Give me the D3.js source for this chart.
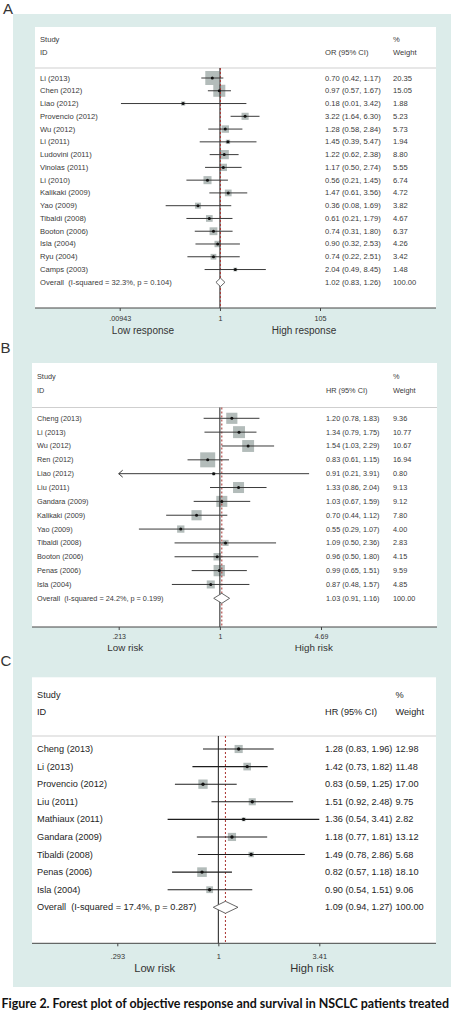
<!DOCTYPE html>
<html>
<head>
<meta charset="utf-8">
<script src="https://cdn.jsdelivr.net/npm/d3@7"></script>
<style>
  html, body { margin: 0; padding: 0; background: #ffffff; }
  svg { display: block; }
</style>
</head>
<body>
<div id="chart"></div>
<script>
// ---------------- DATA ----------------
const panelLetters = ["A", "B", "C"];

// Panel A - objective response (OR)
const studiesA = ["Li (2013)", "Chen (2012)", "Liao (2012)", "Provencio (2012)", "Wu (2012)", "Li (2011)", "Ludovini (2011)", "Vinolas (2011)", "Li (2010)", "Kalikaki (2009)", "Yao (2009)", "Tibaldi (2008)", "Booton (2006)", "Isla (2004)", "Ryu (2004)", "Camps (2003)"];
const estA    = [0.70, 0.97, 0.18, 3.22, 1.28, 1.45, 1.22, 1.17, 0.56, 1.47, 0.36, 0.61, 0.74, 0.90, 0.74, 2.04];
const lowA    = [0.42, 0.57, 0.01, 1.64, 0.58, 0.39, 0.62, 0.50, 0.21, 0.61, 0.08, 0.21, 0.31, 0.32, 0.22, 0.49];
const highA   = [1.17, 1.67, 3.42, 6.30, 2.84, 5.47, 2.38, 2.74, 1.45, 3.56, 1.69, 1.79, 1.80, 2.53, 2.51, 8.45];
const weightA = [20.35, 15.05, 1.88, 5.23, 5.73, 1.94, 8.80, 5.55, 6.74, 4.72, 3.82, 4.67, 6.37, 4.26, 3.42, 1.48];
const overallA = ["Overall  (I-squared = 32.3%, p = 0.104)", 1.02, 0.83, 1.26, 100.00];
const ticksA = [0.00943, 1, 105];
const tickLabelsA = [".00943", "1", "105"];
const favourA = ["Low response", "High response"];
const measureA = "OR (95% CI)";

// Panel B - survival (HR)
const studiesB = ["Cheng (2013)", "Li (2013)", "Wu (2012)", "Ren (2012)", "Liao (2012)", "Liu (2011)", "Gandara (2009)", "Kalikaki (2009)", "Yao (2009)", "Tibaldi (2008)", "Booton (2006)", "Penas (2006)", "Isla (2004)"];
const estB    = [1.20, 1.34, 1.54, 0.83, 0.91, 1.33, 1.03, 0.70, 0.55, 1.09, 0.96, 0.99, 0.87];
const lowB    = [0.78, 0.79, 1.03, 0.61, 0.21, 0.86, 0.67, 0.44, 0.29, 0.50, 0.50, 0.65, 0.48];
const highB   = [1.83, 1.75, 2.29, 1.15, 3.91, 2.04, 1.59, 1.12, 1.07, 2.36, 1.80, 1.51, 1.57];
const weightB = [9.36, 10.77, 10.67, 16.94, 0.80, 9.13, 9.12, 7.80, 4.00, 2.83, 4.15, 9.59, 4.85];
const overallB = ["Overall  (I-squared = 24.2%, p = 0.199)", 1.03, 0.91, 1.16, 100.00];
const ticksB = [0.213, 1, 4.69];
const tickLabelsB = [".213", "1", "4.69"];
const favourB = ["Low risk", "High risk"];
const measureB = "HR (95% CI)";

// Panel C - survival (HR)
const studiesC = ["Cheng (2013)", "Li (2013)", "Provencio (2012)", "Liu (2011)", "Mathiaux (2011)", "Gandara (2009)", "Tibaldi (2008)", "Penas (2006)", "Isla (2004)"];
const estC    = [1.28, 1.42, 0.83, 1.51, 1.36, 1.18, 1.49, 0.82, 0.90];
const lowC    = [0.83, 0.73, 0.59, 0.92, 0.54, 0.77, 0.78, 0.57, 0.54];
const highC   = [1.96, 1.82, 1.25, 2.48, 3.41, 1.81, 2.86, 1.18, 1.51];
const weightC = [12.98, 11.48, 17.00, 9.75, 2.82, 13.12, 5.68, 18.10, 9.06];
const overallC = ["Overall  (I-squared = 17.4%, p = 0.287)", 1.09, 0.94, 1.27, 100.00];
const ticksC = [0.293, 1, 3.41];
const tickLabelsC = [".293", "1", "3.41"];
const favourC = ["Low risk", "High risk"];
const measureC = "HR (95% CI)";

const captionText = "Figure 2. Forest plot of objective response and survival in NSCLC patients treated";

// ---------------- LAYOUT ----------------
const W = 451, H = 1012;
const FONT = "'Liberation Sans', Arial, sans-serif";

const layouts = [
  { letter: [3, 13.5], box: [35, 27, 436, 308], studyY: 39, idY: 52, sepY: 68, firstY: 78, lastY: 282.3,
    xr: [119.7, 320], colCI: 325, colW: 393, fs: 7.6, tickFs: 7.2, tickPad: 5, favFs: 10,
    favX: [143, 304], favY: 333.5, boxMax: 14, diaH: 4.3, dot: 1.5, col: "#3a3a3a", lw: 1 },
  { letter: [0.5, 353], box: [32, 363, 437, 627], studyY: 376, idY: 390, sepY: 407.5, firstY: 418.3, lastY: 598.3,
    xr: [118.7, 321], colCI: 326, colW: 393, fs: 7.3, tickFs: 7, tickPad: 4.4, favFs: 9.8,
    favX: [125.3, 313.8], favY: 650.5, boxMax: 15, diaH: 5, dot: 1.5, col: "#3a3a3a", lw: 1 },
  { letter: [0.5, 665.5], box: [32, 677.3, 436, 943.3], studyY: 695, idY: 712.3, sepY: 736, firstY: 749, lastY: 907.3,
    xr: [117.3, 319.3], colCI: 325, colW: 395.5, fs: 9.2, tickFs: 7.4, tickPad: 7, favFs: 11.2,
    favX: [154.7, 312], favY: 971.5, boxMax: 9.6, diaH: 6, dot: 1.7, col: "#1e1e1e", lw: 1.1 }
];

const panels = [
  { studies: studiesA, est: estA, low: lowA, high: highA, weight: weightA, overall: overallA, ticks: ticksA, tickLabels: tickLabelsA, favour: favourA, measure: measureA },
  { studies: studiesB, est: estB, low: lowB, high: highB, weight: weightB, overall: overallB, ticks: ticksB, tickLabels: tickLabelsB, favour: favourB, measure: measureB },
  { studies: studiesC, est: estC, low: lowC, high: highC, weight: weightC, overall: overallC, ticks: ticksC, tickLabels: tickLabelsC, favour: favourC, measure: measureC }
];

const svg = d3.select("#chart").append("svg")
  .attr("width", W).attr("height", H)
  .attr("viewBox", `0 0 ${W} ${H}`);

// teal background
svg.append("rect").attr("x", 13).attr("y", 14).attr("width", W - 13).attr("height", 987 - 14)
  .attr("fill", "#dcecea");

const f2 = d3.format(".2f");

panels.forEach((p, pi) => {
  const L = layouts[pi];
  const g = svg.append("g");
  const [bx0, by0, bx1, by1] = L.box;

  // panel letter
  svg.append("text").attr("x", L.letter[0]).attr("y", L.letter[1])
    .attr("font-family", FONT).attr("font-size", 15).attr("fill", "#333")
    .text(panelLetters[pi]);

  // white plot box
  g.append("rect").attr("x", bx0).attr("y", by0).attr("width", bx1 - bx0).attr("height", by1 - by0)
    .attr("fill", "#ffffff");

  const x = d3.scaleLog().domain([p.ticks[0], p.ticks[p.ticks.length - 1]]).range(L.xr);
  const [dmin, dmax] = x.domain();
  const n = p.studies.length;
  const y = d3.scaleLinear().domain([0, n]).range([L.firstY, L.lastY]);

  const rows = p.studies.map((s, i) => ({ label: s, est: p.est[i], lo: p.low[i], hi: p.high[i], w: p.weight[i], i }));
  const wMax = d3.max(p.weight);
  const side = d3.scaleSqrt().domain([0, wMax]).range([0, L.boxMax]);

  // header
  const txt = (sel) => sel.attr("font-family", FONT).attr("font-size", L.fs).attr("fill", L.col)
    .attr("dominant-baseline", "central").style("white-space", "pre");
  g.append("text").attr("x", bx0 + 5).attr("y", L.studyY).call(txt).text("Study");
  g.append("text").attr("x", bx0 + 5).attr("y", L.idY).call(txt).text("ID");
  g.append("text").attr("x", L.colCI).attr("y", L.idY).call(txt).text(p.measure);
  g.append("text").attr("x", L.colW).attr("y", L.studyY).call(txt).text("%");
  g.append("text").attr("x", L.colW).attr("y", L.idY).call(txt).text("Weight");

  // header separator
  g.append("line").attr("x1", bx0).attr("x2", bx1).attr("y1", L.sepY).attr("y2", L.sepY)
    .attr("stroke", "#cfcfcf").attr("stroke-width", 1);

  // weight boxes
  g.selectAll("rect.wbox").data(rows).join("rect").attr("class", "wbox")
    .attr("x", d => x(d.est) - side(d.w) / 2)
    .attr("y", d => y(d.i) - side(d.w) / 2)
    .attr("width", d => side(d.w)).attr("height", d => side(d.w))
    .attr("fill", "#b3bcba");

  // null line and overall dashed line
  g.append("line").attr("x1", x(1)).attr("x2", x(1)).attr("y1", L.sepY).attr("y2", by1)
    .attr("stroke", "#1a1a1a").attr("stroke-width", 1);
  g.append("line").attr("x1", x(p.overall[1])).attr("x2", x(p.overall[1])).attr("y1", L.sepY).attr("y2", by1)
    .attr("stroke", "#a8322f").attr("stroke-width", 1).attr("stroke-dasharray", "2,2");

  // CI lines
  g.selectAll("line.ci").data(rows).join("line").attr("class", "ci")
    .attr("x1", d => x(Math.max(d.lo, dmin))).attr("x2", d => x(Math.min(d.hi, dmax)))
    .attr("y1", d => y(d.i)).attr("y2", d => y(d.i))
    .attr("stroke", L.col).attr("stroke-width", L.lw);
  // arrows where CI exceeds axis range
  rows.filter(d => d.lo < dmin).forEach(d => {
    const ax = x(dmin), ay = y(d.i);
    g.append("path").attr("d", `M${ax + 4},${ay - 3.5}L${ax},${ay}L${ax + 4},${ay + 3.5}`)
      .attr("fill", "none").attr("stroke", L.col).attr("stroke-width", L.lw);
  });
  rows.filter(d => d.hi > dmax).forEach(d => {
    const ax = x(dmax), ay = y(d.i);
    g.append("path").attr("d", `M${ax - 4},${ay - 3.5}L${ax},${ay}L${ax - 4},${ay + 3.5}`)
      .attr("fill", "none").attr("stroke", L.col).attr("stroke-width", L.lw);
  });
  // point estimates
  g.selectAll("circle.pt").data(rows).join("circle").attr("class", "pt")
    .attr("cx", d => x(d.est)).attr("cy", d => y(d.i)).attr("r", L.dot).attr("fill", "#111");

  // overall diamond
  const [oLab, oEst, oLo, oHi, oW] = p.overall;
  const oy = y(n);
  g.append("path")
    .attr("d", `M${x(oLo)},${oy}L${x(oEst)},${oy - L.diaH}L${x(oHi)},${oy}L${x(oEst)},${oy + L.diaH}Z`)
    .attr("fill", "#ffffff").attr("stroke", "#555").attr("stroke-width", 0.9);

  // row texts
  const all = rows.concat([{ label: oLab, est: oEst, lo: oLo, hi: oHi, w: oW, i: n }]);
  g.selectAll("text.lab").data(all).join("text").attr("class", "lab")
    .attr("x", bx0 + 5).attr("y", d => y(d.i)).call(txt).text(d => d.label);
  g.selectAll("text.ci").data(all).join("text").attr("class", "ci")
    .attr("x", L.colCI).attr("y", d => y(d.i)).call(txt)
    .text(d => `${f2(d.est)} (${f2(d.lo)}, ${f2(d.hi)})`);
  g.selectAll("text.wt").data(all).join("text").attr("class", "wt")
    .attr("x", L.colW).attr("y", d => y(d.i)).call(txt).text(d => f2(d.w));

  // axis line across box
  g.append("line").attr("x1", bx0).attr("x2", bx1).attr("y1", by1).attr("y2", by1)
    .attr("stroke", "#444").attr("stroke-width", 1);
  const axis = d3.axisBottom(x).tickValues(p.ticks)
    .tickFormat((d, i) => p.tickLabels[i]).tickSize(3).tickPadding(L.tickPad);
  const ag = g.append("g").attr("transform", `translate(0,${by1})`).call(axis);
  ag.select(".domain").remove();
  ag.selectAll(".tick line").attr("stroke", "#444");
  ag.selectAll(".tick text").attr("font-family", FONT).attr("font-size", L.tickFs).attr("fill", "#333");

  // favour labels
  g.selectAll("text.fav").data(p.favour).join("text").attr("class", "fav")
    .attr("x", (d, i) => L.favX[i]).attr("y", L.favY).attr("text-anchor", "middle")
    .attr("font-family", FONT).attr("font-size", L.favFs).attr("fill", "#333").text(d => d);
});

// caption, sized to fit the full page width
const cap = svg.append("text").attr("y", 1007.5)
  .attr("font-family", "Lato, 'Open Sans', sans-serif").attr("font-weight", "bold")
  .attr("font-size", 12).attr("fill", "#111").text(captionText);
const wFull = cap.node().getComputedTextLength();
const s = 12 * 448 / wFull;
cap.attr("font-size", s).attr("x", 1.5);
</script>
</body>
</html>
